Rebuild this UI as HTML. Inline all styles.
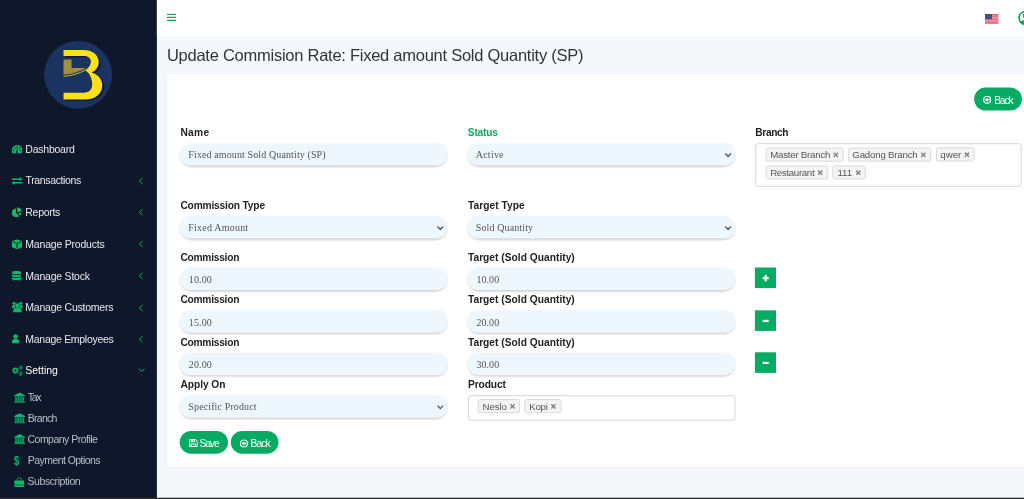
<!DOCTYPE html>
<html lang="en">
<head>
<meta charset="utf-8">
<title>Update Commision Rate</title>
<style>
*{box-sizing:border-box;margin:0;padding:0}
html,body{width:1024px;height:499px;overflow:hidden}
body{font-family:"Liberation Sans","DejaVu Sans",sans-serif;background:#f5f8fb;color:#333;position:relative}
.abs{position:absolute}
.t{position:absolute;white-space:nowrap}
.sf{font-family:"Liberation Serif","DejaVu Serif",serif}
</style>
</head>
<body>
<svg class="abs" style="left:0;top:0" width="1024" height="499" viewBox="0 0 1024 499">
<defs><filter id="sh" x="-5%" y="-30%" width="110%" height="180%"><feGaussianBlur stdDeviation="0.9"/></filter><filter id="cs" x="-2%" y="-4%" width="104%" height="108%"><feGaussianBlur stdDeviation="1.6"/></filter><clipPath id="uc"><circle cx="1025.2" cy="17.8" r="7.2"/></clipPath></defs>
<rect x="0" y="0" width="156.9" height="499" fill="#0f172a"/>
<rect x="156.9" y="0" width="868" height="36.1" fill="#fff"/>
<rect x="166.8" y="74" width="870" height="393" rx="1.5" fill="#5a6e82" opacity=".11" filter="url(#cs)"/>
<rect x="166.8" y="74" width="870" height="392.9" rx="1.5" fill="#fff"/>
<circle cx="78.1" cy="74.8" r="34" fill="#1b3360"/>
<path transform="translate(1.9,1.2)" fill="#0b1530" opacity=".9" d="M63.5 50H83C92.5 50 98.7 54.8 98.7 62C98.7 67 95.8 70.8 91.5 72.6C98 74.5 102.3 79.3 102.3 85.2C102.3 93.5 95.5 99.5 85.5 99.5H63.5V92.7H84C89 92.7 92.2 89.5 92.2 84.5C92.2 78 89.5 73 85.4 70.2C89 67.5 90.9 65 90.9 61.8C90.9 58 88 56 83 56H63.5Z"/>
<path fill="#fde01a" d="M63.5 50H83C92.5 50 98.7 54.8 98.7 62C98.7 67 95.8 70.8 91.5 72.6C98 74.5 102.3 79.3 102.3 85.2C102.3 93.5 95.5 99.5 85.5 99.5H63.5V92.7H84C89 92.7 92.2 89.5 92.2 84.5C92.2 78 89.5 73 85.4 70.2C89 67.5 90.9 65 90.9 61.8C90.9 58 88 56 83 56H63.5Z"/>
<path fill="#a38d3f" d="M63.5 59.6H71.6V68H86C79 72.3 71 74.2 63.5 74.8Z"/>
<path fill="none" stroke="#fde01a" stroke-width=".8" d="M63.5 76.4C71 75.8 79 73.6 85.8 70"/>
<svg x="166.8" y="13.5" width="9.4" height="8" viewBox="0 0 9.4 8" fill="#0aa65c"><rect x="0" y="0.2" width="9.3" height="1.4" rx=".4"/><rect x="0" y="3.2" width="9.3" height="1.4" rx=".4"/><rect x="0" y="6.2" width="9.3" height="1.4" rx=".4"/></svg>
<svg x="985" y="14" width="14" height="10" viewBox="0 0 14 10"><rect width="13.4" height="9.8" fill="#e0637a"/><g fill="#efaab6"><rect y="1.5" width="13.4" height=".7"/><rect y="3" width="13.4" height=".7"/><rect y="4.5" width="13.4" height=".7"/><rect y="6" width="13.4" height=".7"/><rect y="7.5" width="13.4" height=".7"/></g><rect width="7" height="5.2" fill="#46507f"/></svg>
<g clip-path="url(#uc)"><circle cx="1025.2" cy="17.8" r="7.2" fill="#0aa65c"/><circle cx="1025.2" cy="17.8" r="5.4" fill="#fff"/><circle cx="1025.2" cy="15.8" r="2.5" fill="#0aa65c"/><ellipse cx="1025.2" cy="24.6" rx="5.2" ry="4.8" fill="#0aa65c"/></g>
<svg x="11.7" y="145" width="10.8" height="8.6" viewBox="0 0 10.8 8.6" fill="#10b969"><path d="M5.4 0A5.4 5.4 0 0 0 0 5.4C0 6.7 0.5 7.8 1.2 8.6H9.6C10.3 7.8 10.8 6.7 10.8 5.4A5.4 5.4 0 0 0 5.4 0Z"/><g fill="#0f172a"><circle cx="1.9" cy="5.5" r=".75"/><circle cx="2.9" cy="3" r=".75"/><circle cx="5.4" cy="1.9" r=".75"/><circle cx="7.9" cy="3" r=".75"/><circle cx="8.9" cy="5.5" r=".75"/><path d="M4.95 6.9L5.15 2.9H5.65L5.85 6.9Z"/><circle cx="5.4" cy="6.9" r="1.1"/></g></svg>
<svg x="11.7" y="177.1" width="10.8" height="7.8" viewBox="0 0 10.8 7.8" fill="#10b969"><path d="M0 1.4H7.9V0L10.8 2.1L7.9 4.2V2.8H0Z"/><path d="M10.8 5H2.9V3.6L0 5.7L2.9 7.8V6.4H10.8Z"/></svg>
<svg x="11.7" y="207.2" width="10.2" height="10" viewBox="0 0 10.2 10" fill="#10b969"><path d="M4.3 1.2V5.6L7.5 8.7A4.4 4.4 0 1 1 4.3 1.2Z"/><path d="M5.3 0A4.6 4.6 0 0 1 9.9 4.6H5.3Z"/><path d="M5.9 5.6H9.9A4.4 4.4 0 0 1 8.6 8.3Z"/></svg>
<svg x="11.8" y="239.2" width="10.5" height="10.2" viewBox="0 0 10.5 10.2" fill="#10b969"><path d="M5.2 0L10.2 2V8L5.2 10L0.2 8V2Z"/><path d="M1.2 2.7L5.2 4.3L9.2 2.7M5.2 4.3V9" fill="none" stroke="#0f172a" stroke-width=".9"/></svg>
<svg x="11.8" y="270.8" width="9.5" height="10.5" viewBox="0 0 9.5 10.5" fill="#10b969"><ellipse cx="4.75" cy="1.7" rx="4.75" ry="1.7"/><path d="M0 2.9C1 4 3 4.3 4.75 4.3S8.5 4 9.5 2.9V4.7C9.5 5.6 7.4 6.3 4.75 6.3S0 5.6 0 4.7Z"/><path d="M0 5.9C1 7 3 7.3 4.75 7.3S8.5 7 9.5 5.9V7.7C9.5 8.6 7.4 9.3 4.75 9.3S0 8.6 0 7.7Z"/><path d="M0 8.9C1 10 3 10.3 4.75 10.3S8.5 10 9.5 8.9V9.1C9.5 10 7.4 10.5 4.75 10.5S0 10 0 9.1Z"/></svg>
<svg x="11.9" y="301.8" width="11" height="10.6" viewBox="0 0 11 10.6" fill="#10b969"><circle cx="5.5" cy="3.7" r="2.2"/><path d="M1.4 10.6V8.6C1.4 7 2.6 6 4 6H7C8.4 6 9.6 7 9.6 8.6V10.6Z"/><circle cx="2.1" cy="1.5" r="1.5"/><circle cx="8.9" cy="1.5" r="1.5"/><path d="M0 6.3V5C0 3.9 .8 3.2 1.8 3.2H2.9C2.7 4.1 3 5 3.6 5.6C2.6 5.6 1.9 5.9 1.5 6.3Z"/><path d="M11 6.3V5C11 3.9 10.2 3.2 9.2 3.2H8.1C8.3 4.1 8 5 7.4 5.6C8.4 5.6 9.1 5.9 9.5 6.3Z"/></svg>
<svg x="11.9" y="334.1" width="7.5" height="9.5" viewBox="0 0 7.5 9.5" fill="#10b969"><circle cx="3.7" cy="2.4" r="2.35"/><path d="M0 9.4V7.6C0 5.9 1.3 4.9 2.8 4.9H4.6C6.1 4.9 7.4 5.9 7.4 7.6V9.4Z"/></svg>
<svg x="11.7" y="365.3" width="11.6" height="10.8" viewBox="0 0 11.6 10.8" fill="#10b969"><circle cx="3.7" cy="5.2" r="1.95" fill="none" stroke="#10b969" stroke-width="1.5"/><circle cx="3.7" cy="5.2" r="2.95" fill="none" stroke="#10b969" stroke-width="1.0" stroke-dasharray="1.158 1.158" stroke-dashoffset="0.579"/><circle cx="9.1" cy="2.25" r="1.1" fill="none" stroke="#10b969" stroke-width="0.85"/><circle cx="9.1" cy="2.25" r="1.8" fill="none" stroke="#10b969" stroke-width="0.8" stroke-dasharray="0.707 0.707" stroke-dashoffset="0.353"/><circle cx="9.1" cy="8.35" r="1.1" fill="none" stroke="#10b969" stroke-width="0.85"/><circle cx="9.1" cy="8.35" r="1.8" fill="none" stroke="#10b969" stroke-width="0.8" stroke-dasharray="0.707 0.707" stroke-dashoffset="0.353"/></svg>
<svg x="14.1" y="392.5" width="11" height="10.3" viewBox="0 0 11 10.3" fill="#10b969"><path d="M5.5 0L11 2.9V3.8H0V2.9Z"/><rect x="1.2" y="4.2" width="1.4" height="3.9"/><rect x="3.6" y="4.2" width="1.4" height="3.9"/><rect x="6" y="4.2" width="1.4" height="3.9"/><rect x="8.4" y="4.2" width="1.4" height="3.9"/><rect x=".7" y="8.2" width="9.6" height=".9"/><rect x="0" y="9.3" width="11" height="1"/></svg>
<svg x="14.1" y="413.2" width="11" height="10.3" viewBox="0 0 11 10.3" fill="#10b969"><path d="M5.5 0L11 2.9V3.8H0V2.9Z"/><rect x="1.2" y="4.2" width="1.4" height="3.9"/><rect x="3.6" y="4.2" width="1.4" height="3.9"/><rect x="6" y="4.2" width="1.4" height="3.9"/><rect x="8.4" y="4.2" width="1.4" height="3.9"/><rect x=".7" y="8.2" width="9.6" height=".9"/><rect x="0" y="9.3" width="11" height="1"/></svg>
<svg x="14.1" y="434.0" width="11" height="10.3" viewBox="0 0 11 10.3" fill="#10b969"><path d="M5.5 0L11 2.9V3.8H0V2.9Z"/><rect x="1.2" y="4.2" width="1.4" height="3.9"/><rect x="3.6" y="4.2" width="1.4" height="3.9"/><rect x="6" y="4.2" width="1.4" height="3.9"/><rect x="8.4" y="4.2" width="1.4" height="3.9"/><rect x=".7" y="8.2" width="9.6" height=".9"/><rect x="0" y="9.3" width="11" height="1"/></svg>
<svg x="14.2" y="477.3" width="10" height="9.6" viewBox="0 0 10 9.6" fill="#10b969"><path d="M0 3.2H10V7.4H0Z"/><path d="M0 8H10V9C10 9.4 9.7 9.6 9.4 9.6H0.6C0.3 9.6 0 9.4 0 9Z"/><path d="M2.9 4.3V2.4A2.1 2.1 0 0 1 7.1 2.4V4.3" fill="none" stroke="#10b969" stroke-width=".9"/></svg>
<svg x="138" y="176.9" width="6" height="8" viewBox="0 0 6 8"><path d="M4.5 1.1L1.5 4L4.5 6.9" fill="none" stroke="#10b969" stroke-width="1"/></svg>
<svg x="138" y="208.4" width="6" height="8" viewBox="0 0 6 8"><path d="M4.5 1.1L1.5 4L4.5 6.9" fill="none" stroke="#10b969" stroke-width="1"/></svg>
<svg x="138" y="240.1" width="6" height="8" viewBox="0 0 6 8"><path d="M4.5 1.1L1.5 4L4.5 6.9" fill="none" stroke="#10b969" stroke-width="1"/></svg>
<svg x="138" y="271.6" width="6" height="8" viewBox="0 0 6 8"><path d="M4.5 1.1L1.5 4L4.5 6.9" fill="none" stroke="#10b969" stroke-width="1"/></svg>
<svg x="138" y="303.9" width="6" height="8" viewBox="0 0 6 8"><path d="M4.5 1.1L1.5 4L4.5 6.9" fill="none" stroke="#10b969" stroke-width="1"/></svg>
<svg x="138" y="335.3" width="6" height="8" viewBox="0 0 6 8"><path d="M4.5 1.1L1.5 4L4.5 6.9" fill="none" stroke="#10b969" stroke-width="1"/></svg>
<svg x="138" y="367.6" width="8" height="6" viewBox="0 0 8 6"><path d="M0.9 1.1L3.7 3.9L6.5 1.1" fill="none" stroke="#10b969" stroke-width="1"/></svg>
<rect x="180.1" y="144.4" width="267" height="22.5" rx="11.25" fill="#000" opacity=".2" filter="url(#sh)"/><rect x="179.6" y="143.1" width="268" height="22.5" rx="11.25" fill="#eef6fe"/>
<rect x="467.9" y="144.4" width="267" height="22.5" rx="11.25" fill="#000" opacity=".2" filter="url(#sh)"/><rect x="467.4" y="143.1" width="268" height="22.5" rx="11.25" fill="#eef6fe"/>
<svg x="724.6" y="152.7" width="7" height="5" viewBox="0 0 7 5"><path d="M0.7 0.8L3.5 3.8L6.3 0.8" fill="none" stroke="#505050" stroke-width="1.3"/></svg>
<rect x="180.1" y="217.4" width="267" height="22.5" rx="11.25" fill="#000" opacity=".2" filter="url(#sh)"/><rect x="179.6" y="216.1" width="268" height="22.5" rx="11.25" fill="#eef6fe"/>
<svg x="436.8" y="225.7" width="7" height="5" viewBox="0 0 7 5"><path d="M0.7 0.8L3.5 3.8L6.3 0.8" fill="none" stroke="#505050" stroke-width="1.3"/></svg>
<rect x="467.9" y="217.4" width="267" height="22.5" rx="11.25" fill="#000" opacity=".2" filter="url(#sh)"/><rect x="467.4" y="216.1" width="268" height="22.5" rx="11.25" fill="#eef6fe"/>
<svg x="724.6" y="225.7" width="7" height="5" viewBox="0 0 7 5"><path d="M0.7 0.8L3.5 3.8L6.3 0.8" fill="none" stroke="#505050" stroke-width="1.3"/></svg>
<rect x="180.1" y="268.90000000000003" width="267" height="22.5" rx="11.25" fill="#000" opacity=".2" filter="url(#sh)"/><rect x="179.6" y="267.6" width="268" height="22.5" rx="11.25" fill="#eef6fe"/>
<rect x="467.9" y="268.90000000000003" width="267" height="22.5" rx="11.25" fill="#000" opacity=".2" filter="url(#sh)"/><rect x="467.4" y="267.6" width="268" height="22.5" rx="11.25" fill="#eef6fe"/>
<rect x="180.1" y="311.5" width="267" height="22.5" rx="11.25" fill="#000" opacity=".2" filter="url(#sh)"/><rect x="179.6" y="310.2" width="268" height="22.5" rx="11.25" fill="#eef6fe"/>
<rect x="467.9" y="311.5" width="267" height="22.5" rx="11.25" fill="#000" opacity=".2" filter="url(#sh)"/><rect x="467.4" y="310.2" width="268" height="22.5" rx="11.25" fill="#eef6fe"/>
<rect x="180.1" y="354.0" width="267" height="22.5" rx="11.25" fill="#000" opacity=".2" filter="url(#sh)"/><rect x="179.6" y="352.7" width="268" height="22.5" rx="11.25" fill="#eef6fe"/>
<rect x="467.9" y="354.0" width="267" height="22.5" rx="11.25" fill="#000" opacity=".2" filter="url(#sh)"/><rect x="467.4" y="352.7" width="268" height="22.5" rx="11.25" fill="#eef6fe"/>
<rect x="180.1" y="396.5" width="267" height="22.5" rx="11.25" fill="#000" opacity=".2" filter="url(#sh)"/><rect x="179.6" y="395.2" width="268" height="22.5" rx="11.25" fill="#eef6fe"/>
<svg x="436.8" y="404.8" width="7" height="5" viewBox="0 0 7 5"><path d="M0.7 0.8L3.5 3.8L6.3 0.8" fill="none" stroke="#505050" stroke-width="1.3"/></svg>
<rect x="755.8" y="143.7" width="265.40" height="42.50" rx="2.5" fill="#fff" stroke="#d5d5d5" stroke-width="1"/>
<rect x="468.3" y="395.7" width="266.70" height="24.50" rx="2.5" fill="#fff" stroke="#d5d5d5" stroke-width="1"/>
<rect x="766.0" y="148.1" width="77.20" height="13.1" rx="2" fill="#f4f4f4" stroke="#d9d9d9" stroke-width="1"/><svg x="833" y="152.1" width="5.6" height="5.6" viewBox="0 0 5.6 5.6"><path d="M0.7 0.7L4.9 4.9M4.9 0.7L0.7 4.9" stroke="#858585" stroke-width="1.5" fill="none"/></svg>
<rect x="848.4" y="148.1" width="82.40" height="13.1" rx="2" fill="#f4f4f4" stroke="#d9d9d9" stroke-width="1"/><svg x="920.5" y="152.1" width="5.6" height="5.6" viewBox="0 0 5.6 5.6"><path d="M0.7 0.7L4.9 4.9M4.9 0.7L0.7 4.9" stroke="#858585" stroke-width="1.5" fill="none"/></svg>
<rect x="936.5" y="147.9" width="37.70" height="13.1" rx="2" fill="#f4f4f4" stroke="#d9d9d9" stroke-width="1"/><svg x="964.1" y="151.9" width="5.6" height="5.6" viewBox="0 0 5.6 5.6"><path d="M0.7 0.7L4.9 4.9M4.9 0.7L0.7 4.9" stroke="#858585" stroke-width="1.5" fill="none"/></svg>
<rect x="766.0" y="165.9" width="61.70" height="13.1" rx="2" fill="#f4f4f4" stroke="#d9d9d9" stroke-width="1"/><svg x="817.4" y="169.9" width="5.6" height="5.6" viewBox="0 0 5.6 5.6"><path d="M0.7 0.7L4.9 4.9M4.9 0.7L0.7 4.9" stroke="#858585" stroke-width="1.5" fill="none"/></svg>
<rect x="832.8" y="165.9" width="32.40" height="13.1" rx="2" fill="#f4f4f4" stroke="#d9d9d9" stroke-width="1"/><svg x="855.5" y="169.9" width="5.6" height="5.6" viewBox="0 0 5.6 5.6"><path d="M0.7 0.7L4.9 4.9M4.9 0.7L0.7 4.9" stroke="#858585" stroke-width="1.5" fill="none"/></svg>
<rect x="478.1" y="399.6" width="41.50" height="13.1" rx="2" fill="#f4f4f4" stroke="#d9d9d9" stroke-width="1"/><svg x="509.7" y="403.6" width="5.6" height="5.6" viewBox="0 0 5.6 5.6"><path d="M0.7 0.7L4.9 4.9M4.9 0.7L0.7 4.9" stroke="#858585" stroke-width="1.5" fill="none"/></svg>
<rect x="524.8" y="399.6" width="36.30" height="13.1" rx="2" fill="#f4f4f4" stroke="#d9d9d9" stroke-width="1"/><svg x="550.6" y="403.6" width="5.6" height="5.6" viewBox="0 0 5.6 5.6"><path d="M0.7 0.7L4.9 4.9M4.9 0.7L0.7 4.9" stroke="#858585" stroke-width="1.5" fill="none"/></svg>
<rect x="179.7" y="430.9" width="48.3" height="22.8" rx="11.4" fill="#06aa62"/>
<rect x="230.8" y="430.9" width="47.7" height="22.8" rx="11.4" fill="#06aa62"/>
<rect x="974.1" y="87.6" width="47.9" height="23" rx="11.5" fill="#06aa62"/>
<svg x="239.7" y="439.3" width="8.4" height="8.4" viewBox="0 0 8.4 8.4"><circle cx="4.2" cy="4.2" r="3.5" fill="none" stroke="#fff" stroke-width="1.15"/><path d="M1.9 4.2L4.5 2.1V3.4H6.5V5H4.5V6.3Z" fill="#fff"/></svg>
<svg x="983" y="95.6" width="8.4" height="8.4" viewBox="0 0 8.4 8.4"><circle cx="4.2" cy="4.2" r="3.5" fill="none" stroke="#fff" stroke-width="1.15"/><path d="M1.9 4.2L4.5 2.1V3.4H6.5V5H4.5V6.3Z" fill="#fff"/></svg>
<svg x="189" y="439.1" width="8.8" height="8" viewBox="0 0 8.8 8"><path d="M0.5 0.5H6.5L8.3 2.2V7.5H0.5Z" fill="none" stroke="#fff" stroke-width="1"/><rect x="1.9" y="0.6" width="4.2" height="2.5" fill="#fff"/><rect x="4.4" y="1" width="0.9" height="1.6" fill="#06aa62"/><rect x="2.2" y="4.9" width="4.4" height="2.6" fill="none" stroke="#fff" stroke-width=".9"/></svg>
<rect x="754.9" y="267.5" width="21.1" height="20.6" fill="#06aa62"/><rect x="762.70" y="277.00" width="6" height="2.2" fill="#fff"/><rect x="764.60" y="274.90" width="2.2" height="6.4" fill="#fff"/>
<rect x="754.9" y="310.3" width="21.1" height="20.6" fill="#06aa62"/><rect x="762.70" y="319.80" width="6" height="2.2" fill="#fff"/>
<rect x="754.9" y="352.3" width="21.1" height="20.6" fill="#06aa62"/><rect x="762.70" y="361.80" width="6" height="2.2" fill="#fff"/>
<rect x="0" y="497.7" width="1024" height="1.3" fill="#2f2f2f"/>
</svg>

<div class="t" style="left:166.96px;top:44px;font-size:16.5px;line-height:22px;color:#333;letter-spacing:-0.257px">Update Commision Rate: Fixed amount Sold Quantity (SP)</div>
<div class="t" style="left:25.33px;top:142px;font-size:10.5px;line-height:14px;color:#e6e9ee;letter-spacing:-0.241px">Dashboard</div>
<div class="t" style="left:25.53px;top:173px;font-size:10.5px;line-height:14px;color:#e6e9ee;letter-spacing:-0.361px">Transactions</div>
<div class="t" style="left:25.33px;top:205px;font-size:10.5px;line-height:14px;color:#e6e9ee;letter-spacing:-0.287px">Reports</div>
<div class="t" style="left:25.33px;top:237px;font-size:10.5px;line-height:14px;color:#e6e9ee;letter-spacing:-0.205px">Manage Products</div>
<div class="t" style="left:25.33px;top:269px;font-size:10.5px;line-height:14px;color:#e6e9ee;letter-spacing:-0.225px">Manage Stock</div>
<div class="t" style="left:25.33px;top:300px;font-size:10.5px;line-height:14px;color:#e6e9ee;letter-spacing:-0.232px">Manage Customers</div>
<div class="t" style="left:25.33px;top:332px;font-size:10.5px;line-height:14px;color:#e6e9ee;letter-spacing:-0.291px">Manage Employees</div>
<div class="t" style="left:25.33px;top:363px;font-size:10.5px;line-height:14px;color:#ffffff;letter-spacing:-0.026px">Setting</div>
<div class="t" style="left:27.83px;top:390px;font-size:10.5px;line-height:14px;color:#b9bfca;letter-spacing:-1.299px">Tax</div>
<div class="t" style="left:27.83px;top:411px;font-size:10.5px;line-height:14px;color:#b9bfca;letter-spacing:-0.747px">Branch</div>
<div class="t" style="left:27.53px;top:432px;font-size:10.5px;line-height:14px;color:#b9bfca;letter-spacing:-0.520px">Company Profile</div>
<div class="t" style="left:27.83px;top:453px;font-size:10.5px;line-height:14px;color:#b9bfca;letter-spacing:-0.557px">Payment Options</div>
<div class="t" style="left:27.53px;top:474px;font-size:10.5px;line-height:14px;color:#b9bfca;letter-spacing:-0.421px">Subscription</div>
<div class="t" style="left:180.44px;top:126px;font-size:10.2px;line-height:14px;color:#222;letter-spacing:0.323px;font-weight:700">Name</div>
<div class="t" style="left:467.84px;top:126px;font-size:10.2px;line-height:14px;color:#0fa55f;letter-spacing:-0.225px;font-weight:700">Status</div>
<div class="t" style="left:755.34px;top:126px;font-size:10.2px;line-height:14px;color:#222;letter-spacing:-0.378px;font-weight:700">Branch</div>
<div class="t" style="left:180.44px;top:199px;font-size:10.2px;line-height:14px;color:#222;letter-spacing:-0.170px;font-weight:700">Commission Type</div>
<div class="t" style="left:467.94px;top:199px;font-size:10.2px;line-height:14px;color:#222;letter-spacing:0.048px;font-weight:700">Target Type</div>
<div class="t" style="left:180.44px;top:251px;font-size:10.2px;line-height:14px;color:#222;letter-spacing:-0.247px;font-weight:700">Commission</div>
<div class="t" style="left:467.94px;top:251px;font-size:10.2px;line-height:14px;color:#222;letter-spacing:0.029px;font-weight:700">Target (Sold Quantity)</div>
<div class="t" style="left:180.44px;top:293px;font-size:10.2px;line-height:14px;color:#222;letter-spacing:-0.247px;font-weight:700">Commission</div>
<div class="t" style="left:467.94px;top:293px;font-size:10.2px;line-height:14px;color:#222;letter-spacing:0.029px;font-weight:700">Target (Sold Quantity)</div>
<div class="t" style="left:180.44px;top:336px;font-size:10.2px;line-height:14px;color:#222;letter-spacing:-0.247px;font-weight:700">Commission</div>
<div class="t" style="left:467.94px;top:336px;font-size:10.2px;line-height:14px;color:#222;letter-spacing:0.029px;font-weight:700">Target (Sold Quantity)</div>
<div class="t" style="left:180.44px;top:378px;font-size:10.2px;line-height:14px;color:#222;letter-spacing:-0.038px;font-weight:700">Apply On</div>
<div class="t" style="left:467.94px;top:378px;font-size:10.2px;line-height:14px;color:#222;letter-spacing:-0.097px;font-weight:700">Product</div>
<div class="t sf" style="left:188.35px;top:148px;font-size:10px;line-height:14px;color:#555;letter-spacing:0.113px">Fixed amount Sold Quantity (SP)</div>
<div class="t sf" style="left:475.75px;top:148px;font-size:10px;line-height:14px;color:#555;letter-spacing:0.229px">Active</div>
<div class="t sf" style="left:188.35px;top:221px;font-size:10px;line-height:14px;color:#555;letter-spacing:0.208px">Fixed Amount</div>
<div class="t sf" style="left:475.75px;top:221px;font-size:10px;line-height:14px;color:#555;letter-spacing:0.121px">Sold Quantity</div>
<div class="t sf" style="left:188.85px;top:273px;font-size:10px;line-height:14px;color:#555;letter-spacing:0.100px">10.00</div>
<div class="t sf" style="left:476.55px;top:273px;font-size:10px;line-height:14px;color:#555;letter-spacing:0.025px">10.00</div>
<div class="t sf" style="left:188.85px;top:316px;font-size:10px;line-height:14px;color:#555;letter-spacing:0.100px">15.00</div>
<div class="t sf" style="left:476.55px;top:316px;font-size:10px;line-height:14px;color:#555;letter-spacing:0.025px">20.00</div>
<div class="t sf" style="left:188.85px;top:358px;font-size:10px;line-height:14px;color:#555;letter-spacing:0.100px">20.00</div>
<div class="t sf" style="left:476.55px;top:358px;font-size:10px;line-height:14px;color:#555;letter-spacing:0.025px">30.00</div>
<div class="t sf" style="left:188.35px;top:400px;font-size:10px;line-height:14px;color:#555;letter-spacing:0.122px">Specific Product</div>
<div class="t" style="left:770.16px;top:148px;font-size:9.7px;line-height:14px;color:#555;letter-spacing:-0.227px">Master Branch</div>
<div class="t" style="left:852.36px;top:148px;font-size:9.7px;line-height:14px;color:#555;letter-spacing:-0.208px">Gadong Branch</div>
<div class="t" style="left:940.36px;top:148px;font-size:9.7px;line-height:14px;color:#555;letter-spacing:-0.009px">qwer</div>
<div class="t" style="left:770.16px;top:166px;font-size:9.7px;line-height:14px;color:#555;letter-spacing:-0.324px">Restaurant</div>
<div class="t" style="left:837.46px;top:166px;font-size:9.7px;line-height:14px;color:#555;letter-spacing:-0.081px">111</div>
<div class="t" style="left:482.46px;top:400px;font-size:9.7px;line-height:14px;color:#555;letter-spacing:-0.052px">Neslo</div>
<div class="t" style="left:529.36px;top:400px;font-size:9.7px;line-height:14px;color:#555;letter-spacing:-0.306px">Kopi</div>
<div class="t" style="left:199.44px;top:437px;font-size:10.3px;line-height:14px;color:#fff;letter-spacing:-1.086px">Save</div>
<div class="t" style="left:250.44px;top:437px;font-size:10.3px;line-height:14px;color:#fff;letter-spacing:-0.893px">Back</div>
<div class="t" style="left:994.14px;top:94px;font-size:10.3px;line-height:14px;color:#fff;letter-spacing:-1.126px">Back</div>
<div class="t" style="left:14.35px;top:453px;font-size:12.2px;line-height:16px;color:#10b969;letter-spacing:1.509px;font-weight:700;transform:scaleX(.78);transform-origin:0 0">$</div>
</body>
</html>
